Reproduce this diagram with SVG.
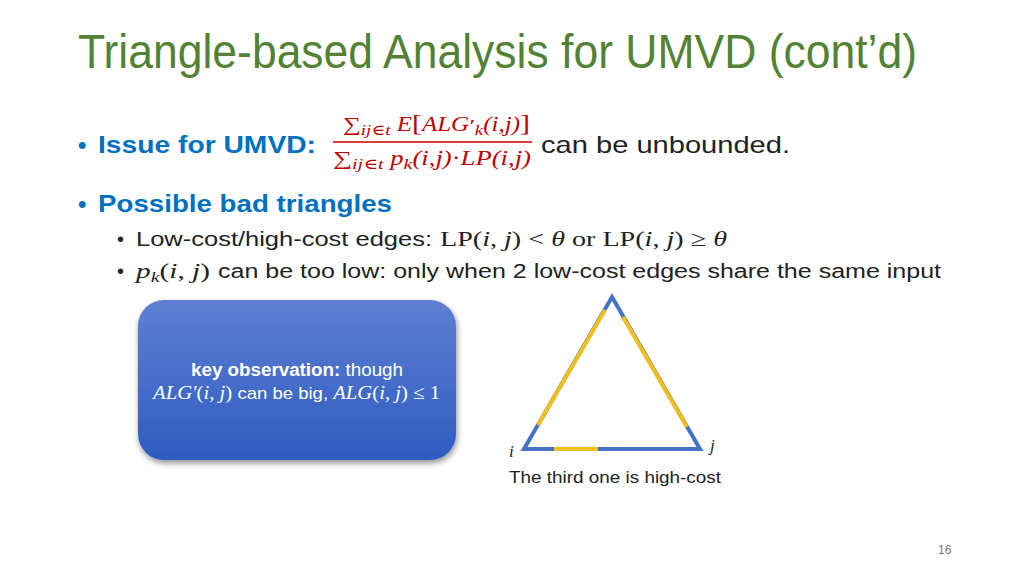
<svg xmlns="http://www.w3.org/2000/svg" width="1024" height="576" viewBox="0 0 1024 576">
<defs>
<linearGradient id="boxg" x1="0" y1="0" x2="0" y2="1">
<stop offset="0" stop-color="#5E80D2"/>
<stop offset="1" stop-color="#2E5BC1"/>
</linearGradient>
<filter id="sh" x="-10%" y="-10%" width="125%" height="130%">
<feGaussianBlur in="SourceAlpha" stdDeviation="3"/>
<feOffset dx="1" dy="3" result="b"/>
<feComponentTransfer><feFuncA type="linear" slope="0.45"/></feComponentTransfer>
<feMerge><feMergeNode/><feMergeNode in="SourceGraphic"/></feMerge>
</filter>
<style>
.title{font-family:"Liberation Sans","DejaVu Sans",sans-serif;font-size:48px;fill:#548235}
.l1{font-family:"Liberation Sans","DejaVu Sans",sans-serif;font-size:24px;font-weight:bold;fill:#0070C0}
.txt{font-family:"Liberation Sans","DejaVu Sans",sans-serif;fill:#222}
.serif{font-family:"Liberation Serif","DejaVu Serif",serif}
.math{font-family:"Liberation Serif","DejaVu Serif",serif;font-style:italic}
.up{font-style:normal}
.red{fill:#C00000}
.blue{stroke:#4472C4;stroke-width:4;fill:none;stroke-linecap:butt;stroke-linejoin:miter}
.yel{stroke:#F2BE1A;stroke-width:4;fill:none}
</style>
</defs>
<rect width="1024" height="576" fill="#ffffff"/>
<text class="title" x="78" y="68" textLength="839" lengthAdjust="spacingAndGlyphs">Triangle-based Analysis for UMVD (cont’d)</text>

<g id="bullet1">
<text class="l1" x="78" y="153">•</text>
<text class="l1" x="98" y="153" textLength="218" lengthAdjust="spacingAndGlyphs">Issue for UMVD:</text>
<g id="fraction">
<text class="math red" x="343" y="131" font-size="20" textLength="187" lengthAdjust="spacingAndGlyphs"><tspan class="up">∑</tspan><tspan font-size="15" dy="4">ij∈t</tspan><tspan dy="-4"> E</tspan><tspan class="up" font-size="24">[</tspan>ALG<tspan font-size="16" font-weight="bold">′</tspan><tspan font-size="15" dy="4">k</tspan><tspan dy="-4">(i,j)</tspan><tspan class="up" font-size="24">]</tspan></text>
<line x1="333" y1="142" x2="532" y2="142" stroke="#C00000" stroke-width="1.3"/>
<text class="math red" x="333" y="165" font-size="20" textLength="198" lengthAdjust="spacingAndGlyphs"><tspan class="up">∑</tspan><tspan font-size="15" dy="4">ij∈t</tspan><tspan dy="-4"> p</tspan><tspan font-size="15" dy="4">k</tspan><tspan dy="-4">(i,j)</tspan><tspan class="up">·</tspan>LP(i,j)</text>
</g>
<text class="txt" x="541" y="153" font-size="24" textLength="249" lengthAdjust="spacingAndGlyphs">can be unbounded.</text>
</g>

<g id="bullet2">
<text class="l1" x="78" y="212">•</text>
<text class="l1" x="98" y="212" textLength="294" lengthAdjust="spacingAndGlyphs">Possible bad triangles</text>
<text class="txt" x="117" y="246" font-size="20">•</text>
<text class="txt" x="136" y="246" font-size="20" textLength="296" lengthAdjust="spacingAndGlyphs">Low-cost/high-cost edges:</text>
<text class="serif" x="440" y="246" font-size="22" fill="#222" textLength="287" lengthAdjust="spacingAndGlyphs">LP(<tspan class="math">i</tspan>, <tspan class="math">j</tspan>) &lt; <tspan class="math">θ</tspan> or LP(<tspan class="math">i</tspan>, <tspan class="math">j</tspan>) ≥ <tspan class="math">θ</tspan></text>
<text class="txt" x="117" y="278" font-size="20">•</text>
<text class="serif" x="136" y="278" font-size="22" fill="#222" textLength="74" lengthAdjust="spacingAndGlyphs"><tspan class="math">p</tspan><tspan class="math" font-size="15" dy="4">k</tspan><tspan dy="-4">(</tspan><tspan class="math">i</tspan>, <tspan class="math">j</tspan>)</text>
<text class="txt" x="218" y="278" font-size="20" textLength="723" lengthAdjust="spacingAndGlyphs">can be too low: only when 2 low-cost edges share the same input</text>
</g>

<g id="keybox">
<rect x="138" y="300" width="318" height="160" rx="26" ry="26" fill="url(#boxg)" filter="url(#sh)"/>
<text x="191" y="376" font-family="Liberation Sans, DejaVu Sans, sans-serif" font-size="18" fill="#ffffff" textLength="212" lengthAdjust="spacingAndGlyphs"><tspan font-weight="bold">key observation:</tspan>  though</text>
<text x="153" y="399" font-family="Liberation Sans, DejaVu Sans, sans-serif" font-size="17" fill="#ffffff" textLength="287" lengthAdjust="spacingAndGlyphs"><tspan class="math" font-size="19">ALG′</tspan><tspan class="serif" font-size="19">(</tspan><tspan class="math" font-size="19">i</tspan><tspan class="serif" font-size="19">, </tspan><tspan class="math" font-size="19">j</tspan><tspan class="serif" font-size="19">)</tspan> can be big, <tspan class="math" font-size="19">ALG</tspan><tspan class="serif" font-size="19">(</tspan><tspan class="math" font-size="19">i</tspan><tspan class="serif" font-size="19">, </tspan><tspan class="math" font-size="19">j</tspan><tspan class="serif" font-size="19">) ≤ 1</tspan></text>
</g>

<g id="triangle">
<polygon class="blue" points="612,297 524,449 700,449"/>
<g id="connectors">
<line class="yel" x1="538" y1="425" x2="605" y2="310"/>
<line class="yel" x1="623" y1="317" x2="687" y2="427"/>
<line class="yel" x1="554" y1="449" x2="598" y2="449"/>
</g>
<text class="math" x="509" y="457" font-size="17" fill="#222">i</text>
<text class="math" x="710" y="451" font-size="17" fill="#222">j</text>
<text class="txt" x="509" y="483" font-size="16" textLength="212" lengthAdjust="spacingAndGlyphs">The third one is high-cost</text>
</g>

<text x="938" y="554" font-family="Liberation Sans, sans-serif" font-size="12" fill="#777">16</text>
</svg>
